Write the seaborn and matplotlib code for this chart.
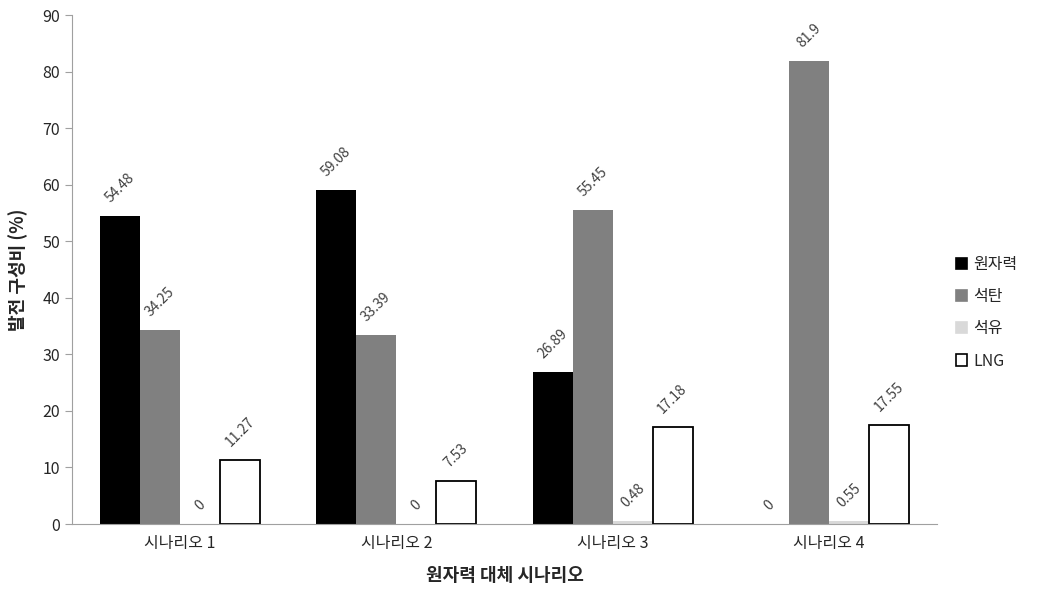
import pandas as pd
import seaborn as sns
import matplotlib.pyplot as plt

# data
scenarios = ['시나리오 1', '시나리오 2', '시나리오 3', '시나리오 4']
sources = ['원자력', '석탄', '석유', 'LNG']
nuclear = [54.48, 59.08, 26.89, 0]
coal = [34.25, 33.39, 55.45, 81.9]
oil = [0, 0, 0.48, 0.55]
lng = [11.27, 7.53, 17.18, 17.55]

colors = ['#000000', '#808080', '#d9d9d9', '#ffffff']

rows = []
for i, s in enumerate(scenarios):
    for src, vals in zip(sources, [nuclear, coal, oil, lng]):
        rows.append({'scenario': s, 'source': src, 'value': vals[i]})
df = pd.DataFrame(rows)

sns.set_style('white')
plt.rcParams['font.family'] = ['Noto Sans CJK KR', 'DejaVu Sans']

fig = plt.figure(figsize=(10.39, 6.03), dpi=100)
ax = fig.add_axes([0.0693, 0.131, 0.8325, 0.844])

sns.barplot(data=df, x='scenario', y='value', hue='source', hue_order=sources,
            palette=colors, width=0.74, linewidth=0, ax=ax)

# LNG bars (last hue) get a black outline
for k, c in enumerate(ax.containers):
    for bar in c:
        if k == 3:
            bar.set_edgecolor('#000000')
            bar.set_linewidth(1.3)
    ax.bar_label(c, labels=[('%g' % b.get_height()) for b in c], rotation=45,
                 fontsize=10, color='#404040', padding=8)

ax.set_ylim(0, 90)
ax.set_yticks(range(0, 91, 10))
ax.set_xlim(-0.5, 3.5)
ax.set_xticks([-0.5, 0.5, 1.5, 2.5, 3.5], minor=True)
ax.tick_params(axis='x', which='major', length=0, labelsize=11.5, pad=8)
ax.tick_params(axis='x', which='minor', length=5, color='#a0a0a0', direction='out')
ax.tick_params(axis='y', length=5, color='#a0a0a0', direction='out', labelsize=11.5, left=True)

for side in ['top', 'right']:
    ax.spines[side].set_visible(False)
for side in ['left', 'bottom']:
    ax.spines[side].set_color('#a0a0a0')

ax.set_xlabel('원자력 대체 시나리오', fontsize=13, fontweight='bold', labelpad=10)
ax.set_ylabel('발전 구성비 (%)', fontsize=13, fontweight='bold', labelpad=10)

handles, labels = ax.get_legend_handles_labels()
for k, h in enumerate(handles):
    h.set_edgecolor('black' if k == 3 else colors[k])
    h.set_linewidth(1.2)
ax.legend(handles, labels, loc='center left', bbox_to_anchor=(1.005, 0.415),
          frameon=False, fontsize=11.5, handlelength=0.7, handleheight=0.7,
          handletextpad=0.4, labelspacing=0.95)

fig.savefig('out.png', dpi=100)
